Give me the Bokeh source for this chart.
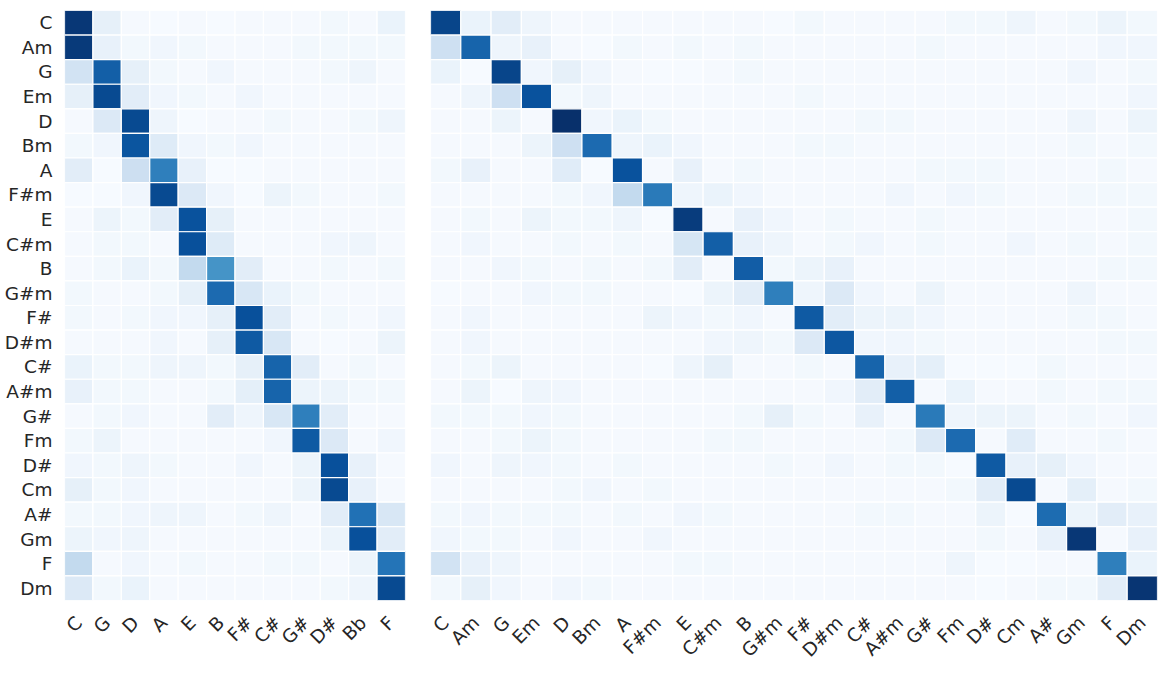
import math
from bokeh.plotting import figure
from bokeh.layouts import row
from bokeh.models import LinearColorMapper, ColumnDataSource
from bokeh.palettes import Blues256
from bokeh.embed import file_html
from bokeh.resources import INLINE

chords = ["C", "Am", "G", "Em", "D", "Bm", "A", "F#m", "E", "C#m", "B", "G#m",
          "F#", "D#m", "C#", "A#m", "G#", "Fm", "D#", "Cm", "A#", "Gm", "F", "Dm"]
keys = ["C", "G", "D", "A", "E", "B", "F#", "C#", "G#", "D#", "Bb", "F"]

# chord (row) x key (column)
key_vals = [
    [0.97, 0.10, 0.03, 0.02, 0.03, 0.02, 0.03, 0.03, 0.03, 0.04, 0.03, 0.08],
    [0.96, 0.09, 0.04, 0.05, 0.04, 0.03, 0.03, 0.03, 0.04, 0.04, 0.04, 0.04],
    [0.20, 0.82, 0.10, 0.04, 0.03, 0.05, 0.03, 0.03, 0.03, 0.04, 0.06, 0.03],
    [0.10, 0.90, 0.12, 0.05, 0.04, 0.03, 0.05, 0.03, 0.03, 0.03, 0.03, 0.03],
    [0.03, 0.15, 0.90, 0.06, 0.02, 0.03, 0.03, 0.04, 0.03, 0.03, 0.04, 0.06],
    [0.04, 0.05, 0.86, 0.14, 0.05, 0.04, 0.05, 0.03, 0.03, 0.03, 0.03, 0.03],
    [0.12, 0.02, 0.23, 0.70, 0.09, 0.02, 0.02, 0.03, 0.03, 0.03, 0.03, 0.03],
    [0.02, 0.02, 0.05, 0.90, 0.15, 0.05, 0.02, 0.07, 0.04, 0.03, 0.03, 0.04],
    [0.03, 0.07, 0.04, 0.12, 0.87, 0.10, 0.03, 0.03, 0.03, 0.03, 0.03, 0.03],
    [0.03, 0.04, 0.04, 0.03, 0.88, 0.14, 0.03, 0.03, 0.03, 0.05, 0.06, 0.03],
    [0.03, 0.04, 0.08, 0.04, 0.27, 0.62, 0.12, 0.03, 0.03, 0.04, 0.03, 0.04],
    [0.04, 0.03, 0.03, 0.04, 0.10, 0.78, 0.17, 0.08, 0.04, 0.03, 0.03, 0.03],
    [0.04, 0.03, 0.04, 0.05, 0.05, 0.10, 0.88, 0.12, 0.03, 0.04, 0.03, 0.05],
    [0.03, 0.03, 0.03, 0.05, 0.03, 0.10, 0.84, 0.17, 0.03, 0.02, 0.03, 0.07],
    [0.08, 0.04, 0.04, 0.06, 0.06, 0.04, 0.10, 0.80, 0.12, 0.03, 0.04, 0.03],
    [0.09, 0.04, 0.04, 0.03, 0.03, 0.04, 0.11, 0.80, 0.07, 0.07, 0.04, 0.04],
    [0.03, 0.04, 0.05, 0.03, 0.03, 0.12, 0.06, 0.17, 0.70, 0.12, 0.03, 0.03],
    [0.04, 0.07, 0.03, 0.03, 0.03, 0.03, 0.03, 0.05, 0.84, 0.15, 0.03, 0.05],
    [0.05, 0.04, 0.06, 0.04, 0.03, 0.03, 0.05, 0.03, 0.07, 0.88, 0.09, 0.03],
    [0.10, 0.04, 0.05, 0.03, 0.03, 0.03, 0.03, 0.03, 0.07, 0.90, 0.09, 0.03],
    [0.04, 0.04, 0.05, 0.06, 0.06, 0.03, 0.04, 0.06, 0.03, 0.12, 0.75, 0.17],
    [0.07, 0.05, 0.06, 0.03, 0.03, 0.03, 0.03, 0.03, 0.03, 0.07, 0.88, 0.12],
    [0.27, 0.03, 0.05, 0.03, 0.04, 0.03, 0.03, 0.04, 0.04, 0.03, 0.07, 0.74],
    [0.15, 0.04, 0.08, 0.03, 0.03, 0.03, 0.03, 0.03, 0.03, 0.04, 0.06, 0.90],
]

# chord (row) x chord (column)
chord_vals = [
    [0.92, 0.08, 0.12, 0.06, 0.03, 0.03, 0.03, 0.03, 0.03, 0.03, 0.03, 0.02, 0.04, 0.03, 0.03, 0.03, 0.03, 0.04, 0.04, 0.06, 0.03, 0.04, 0.07, 0.04],
    [0.22, 0.80, 0.06, 0.09, 0.03, 0.02, 0.04, 0.03, 0.04, 0.03, 0.04, 0.03, 0.03, 0.03, 0.03, 0.03, 0.04, 0.03, 0.03, 0.03, 0.03, 0.03, 0.05, 0.05],
    [0.08, 0.02, 0.92, 0.05, 0.10, 0.05, 0.03, 0.02, 0.02, 0.03, 0.04, 0.03, 0.03, 0.03, 0.03, 0.03, 0.03, 0.03, 0.03, 0.03, 0.03, 0.05, 0.03, 0.04],
    [0.03, 0.06, 0.22, 0.87, 0.04, 0.06, 0.03, 0.03, 0.03, 0.03, 0.03, 0.03, 0.04, 0.03, 0.03, 0.03, 0.03, 0.03, 0.03, 0.03, 0.03, 0.03, 0.03, 0.05],
    [0.03, 0.03, 0.07, 0.03, 1.00, 0.05, 0.08, 0.04, 0.03, 0.03, 0.03, 0.03, 0.03, 0.03, 0.04, 0.04, 0.03, 0.03, 0.03, 0.03, 0.03, 0.06, 0.03, 0.07],
    [0.03, 0.03, 0.03, 0.07, 0.22, 0.78, 0.06, 0.08, 0.05, 0.03, 0.03, 0.03, 0.04, 0.04, 0.03, 0.03, 0.03, 0.03, 0.03, 0.03, 0.03, 0.04, 0.03, 0.04],
    [0.04, 0.09, 0.03, 0.03, 0.13, 0.02, 0.87, 0.03, 0.09, 0.03, 0.04, 0.03, 0.03, 0.03, 0.03, 0.03, 0.04, 0.04, 0.04, 0.03, 0.03, 0.03, 0.04, 0.03],
    [0.03, 0.03, 0.03, 0.03, 0.04, 0.05, 0.27, 0.72, 0.06, 0.08, 0.05, 0.03, 0.03, 0.03, 0.03, 0.05, 0.03, 0.05, 0.04, 0.03, 0.03, 0.04, 0.04, 0.04],
    [0.03, 0.04, 0.03, 0.07, 0.04, 0.04, 0.06, 0.02, 0.95, 0.03, 0.09, 0.05, 0.03, 0.04, 0.03, 0.03, 0.04, 0.03, 0.03, 0.03, 0.03, 0.03, 0.03, 0.04],
    [0.03, 0.05, 0.03, 0.03, 0.04, 0.03, 0.04, 0.03, 0.18, 0.82, 0.09, 0.06, 0.03, 0.04, 0.05, 0.03, 0.04, 0.03, 0.03, 0.05, 0.03, 0.04, 0.03, 0.04],
    [0.03, 0.03, 0.05, 0.04, 0.03, 0.04, 0.03, 0.04, 0.12, 0.03, 0.83, 0.04, 0.07, 0.09, 0.03, 0.03, 0.03, 0.03, 0.03, 0.03, 0.03, 0.03, 0.04, 0.04],
    [0.02, 0.03, 0.03, 0.05, 0.04, 0.04, 0.03, 0.03, 0.02, 0.07, 0.12, 0.70, 0.06, 0.15, 0.05, 0.03, 0.07, 0.03, 0.03, 0.03, 0.03, 0.06, 0.03, 0.03],
    [0.03, 0.05, 0.03, 0.03, 0.03, 0.03, 0.03, 0.07, 0.05, 0.04, 0.05, 0.03, 0.84, 0.12, 0.07, 0.07, 0.05, 0.03, 0.03, 0.03, 0.03, 0.04, 0.04, 0.03],
    [0.03, 0.05, 0.03, 0.03, 0.03, 0.03, 0.03, 0.03, 0.03, 0.05, 0.06, 0.04, 0.15, 0.85, 0.05, 0.05, 0.04, 0.03, 0.03, 0.03, 0.03, 0.03, 0.04, 0.04],
    [0.03, 0.04, 0.07, 0.03, 0.03, 0.03, 0.03, 0.02, 0.06, 0.10, 0.03, 0.03, 0.04, 0.03, 0.80, 0.09, 0.11, 0.02, 0.02, 0.02, 0.04, 0.03, 0.03, 0.03],
    [0.03, 0.07, 0.02, 0.06, 0.05, 0.03, 0.03, 0.03, 0.03, 0.03, 0.03, 0.03, 0.03, 0.05, 0.12, 0.82, 0.03, 0.08, 0.03, 0.03, 0.04, 0.03, 0.04, 0.04],
    [0.04, 0.04, 0.04, 0.05, 0.04, 0.03, 0.03, 0.03, 0.03, 0.03, 0.04, 0.10, 0.04, 0.03, 0.09, 0.03, 0.72, 0.06, 0.07, 0.07, 0.03, 0.04, 0.03, 0.05],
    [0.03, 0.03, 0.04, 0.07, 0.04, 0.03, 0.03, 0.03, 0.03, 0.04, 0.04, 0.03, 0.03, 0.03, 0.03, 0.04, 0.15, 0.78, 0.03, 0.13, 0.03, 0.03, 0.04, 0.03],
    [0.05, 0.03, 0.06, 0.05, 0.04, 0.03, 0.04, 0.03, 0.03, 0.03, 0.03, 0.04, 0.03, 0.05, 0.03, 0.04, 0.04, 0.02, 0.84, 0.09, 0.10, 0.05, 0.03, 0.03],
    [0.03, 0.03, 0.03, 0.03, 0.04, 0.05, 0.03, 0.04, 0.03, 0.03, 0.03, 0.03, 0.03, 0.03, 0.03, 0.03, 0.03, 0.04, 0.12, 0.90, 0.03, 0.11, 0.03, 0.04],
    [0.04, 0.05, 0.04, 0.04, 0.04, 0.03, 0.04, 0.03, 0.05, 0.04, 0.03, 0.03, 0.03, 0.03, 0.04, 0.04, 0.03, 0.03, 0.07, 0.02, 0.77, 0.07, 0.12, 0.09],
    [0.05, 0.04, 0.04, 0.03, 0.05, 0.03, 0.03, 0.05, 0.03, 0.03, 0.03, 0.03, 0.03, 0.03, 0.03, 0.03, 0.03, 0.03, 0.04, 0.03, 0.09, 0.97, 0.03, 0.09],
    [0.20, 0.09, 0.06, 0.03, 0.03, 0.03, 0.03, 0.03, 0.04, 0.04, 0.03, 0.03, 0.03, 0.03, 0.03, 0.03, 0.03, 0.06, 0.02, 0.02, 0.03, 0.03, 0.70, 0.08],
    [0.04, 0.10, 0.05, 0.03, 0.05, 0.04, 0.03, 0.03, 0.03, 0.03, 0.03, 0.03, 0.03, 0.03, 0.03, 0.03, 0.03, 0.03, 0.02, 0.03, 0.04, 0.04, 0.12, 0.98],
]

palette = list(Blues256)


def lum(h):
    return int(h[1:3], 16) + int(h[3:5], 16) + int(h[5:7], 16)


if lum(palette[0]) < lum(palette[-1]):
    palette = palette[::-1]
mapper = LinearColorMapper(palette=palette, low=0.015, high=1.0)

FONT = "DejaVu Sans"
TXT = "#262626"


def make_fig(cols, rows, vals, fw, show_y, border_left, border_right):
    xs, ys, vs = [], [], []
    for i, r in enumerate(rows):
        for j, c in enumerate(cols):
            xs.append(c)
            ys.append(r)
            vs.append(vals[i][j])
    src = ColumnDataSource(dict(x=xs, y=ys, v=vs))
    p = figure(x_range=cols, y_range=list(reversed(rows)),
               frame_width=fw, frame_height=590,
               output_backend="svg", toolbar_location=None,
               min_border_left=border_left, min_border_right=border_right,
               min_border_top=10, min_border_bottom=10)
    p.rect(x="x", y="y", width=1, height=1, source=src,
           fill_color={"field": "v", "transform": mapper},
           line_color="white", line_width=1.2)
    p.outline_line_color = None
    p.grid.grid_line_color = None
    for ax in p.axis:
        ax.axis_line_color = None
        ax.major_tick_line_color = None
        ax.minor_tick_line_color = None
        ax.major_label_text_font = FONT
        ax.major_label_text_font_size = "18.5px"
        ax.major_label_text_color = TXT
        ax.major_label_standoff = 6
    p.xaxis.major_label_orientation = math.pi / 4
    p.xaxis.major_label_standoff = 13
    if not show_y:
        p.yaxis.visible = False
    return p


p1 = make_fig(keys, chords, key_vals, 341, True, 64, 12)
p2 = make_fig(chords, chords, chord_vals, 727, False, 13, 5)

layout = row(p1, p2)
open("out.html", "w").write(file_html(layout, INLINE))
